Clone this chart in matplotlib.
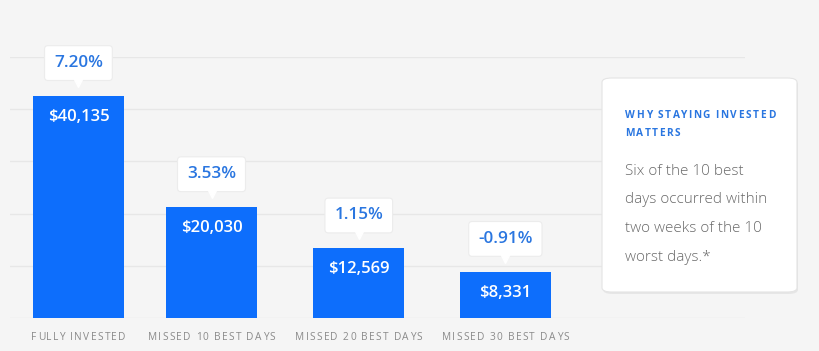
import matplotlib.pyplot as plt
from matplotlib.patches import FancyBboxPatch
from matplotlib.transforms import offset_copy

categories = ["FULLY INVESTED", "MISSED 10 BEST DAYS", "MISSED 20 BEST DAYS", "MISSED 30 BEST DAYS"]
values = [40135, 20030, 12569, 8331]
returns = ["7.20%", "3.53%", "1.15%", "-0.91%"]
card_title = ["WHY STAYING INVESTED", "MATTERS"]
card_body = ["Six of the 10 best", "days occurred within", "two weeks of the 10", "worst days.*"]

W, H = 820, 351
BG = "#f5f5f5"
BLUE = "#0d6efc"
TXT_BLUE = "#2a76e0"

plt.rcParams['font.family'] = ['Open Sans', 'DejaVu Sans']

fig = plt.figure(figsize=(W / 100, H / 100), dpi=100)
fig.patch.set_facecolor(BG)

# axes placed in pixels: x 10..745, baseline 318, top grid 57
ax = fig.add_axes([10 / W, (H - 318) / H, 735 / W, 261 / H])
ax.set_facecolor(BG)
xpos = [0, 0.935, 1.97, 3]
ax.set_xlim(-0.481, 4.684)
ymax = 47200
ax.set_ylim(0, ymax)
ax.set_yticks([ymax * i / 5 for i in range(6)])
ax.yaxis.grid(True, color="#e7e7e7", lw=1)
ax.set_axisbelow(True)
for s in ax.spines.values():
    s.set_visible(False)
ax.tick_params(length=0, labelleft=False, labelbottom=False)
ax.set_xticks(xpos)

ax.bar(xpos, values, width=0.64, color=BLUE, zorder=2)

for x, v, r in zip(xpos, values, returns):
    ax.annotate("${:,}".format(v), (x, v), xytext=(0, -21), textcoords="offset pixels",
                ha="center", va="center", color="white", fontsize=12, fontweight="semibold", zorder=3)
    ax.annotate(r, (x, v), xytext=(0, 33), textcoords="offset pixels",
                ha="center", va="center", color=TXT_BLUE, fontsize=12.3, fontweight="semibold",
                bbox=dict(boxstyle="round,pad=0.55,rounding_size=0.2", fc="white", ec="#ececec", lw=0.8),
                annotation_clip=False, zorder=4)
    ax.plot([x], [v], marker="v", ms=7, color="white", mec="white", zorder=5, clip_on=False,
            transform=offset_copy(ax.transData, fig=fig, x=0, y=14, units="dots"))

# side card
sh = FancyBboxPatch((603 / W, (H - 294) / H), 195 / W, 214 / H,
                    boxstyle="round,pad=0,rounding_size=0.012", transform=fig.transFigure,
                    fc="#000000", alpha=0.06, ec="none")
fig.add_artist(sh)
card = FancyBboxPatch((602 / W, (H - 292) / H), 195 / W, 214 / H,
                      boxstyle="round,pad=0,rounding_size=0.012", transform=fig.transFigure,
                      fc="white", ec="#e4e4e4", lw=0.8)
fig.add_artist(card)

renderer = fig.canvas.get_renderer()


def spaced(x, y, s, gap, center=False, **kw):
    probe = fig.text(0, 0, "|", **kw)
    bw = probe.get_window_extent(renderer).width
    probe.remove()
    offs = []
    for i in range(len(s) + 1):
        pre = fig.text(0, 0, s[:i] + "|", **kw)
        offs.append(pre.get_window_extent(renderer).width - bw + i * gap)
        pre.remove()
    if center:
        x = x - (offs[-1] - gap) / 2
    for i, ch in enumerate(s):
        if ch != " ":
            fig.text((x + offs[i]) / W, 1 - y / H, ch, va="center", ha="left", **kw)


# category labels, letter spaced, under each bar
for x, lab in zip(xpos, categories):
    px = ax.transData.transform((x, 0))[0]
    spaced(px, 338, lab, 1.3, center=True, fontsize=7.3, color="#8a8a8a")

for i, line in enumerate(card_title):
    spaced(625, 116 + 18 * i, line, 1.6, fontsize=7.3, fontweight="bold", color=TXT_BLUE)

for i, line in enumerate(card_body):
    fig.text(625 / W, 1 - (171 + 28.7 * i) / H, line, fontsize=11, color="#6a6a6a",
             va="center", ha="left", fontweight="light")

fig.savefig("out.png", dpi=100, facecolor=BG)
